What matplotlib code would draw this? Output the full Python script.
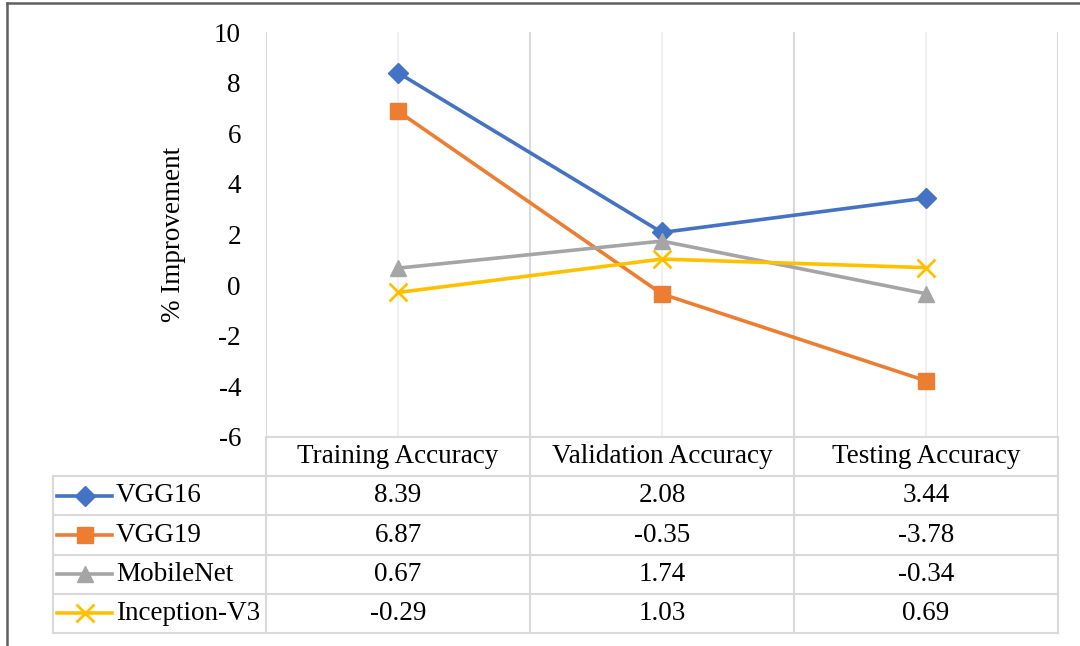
import matplotlib.pyplot as plt
from matplotlib.lines import Line2D

plt.rcParams['font.family'] = ['Liberation Serif', 'DejaVu Serif']

## data
categories = ['Training Accuracy', 'Validation Accuracy', 'Testing Accuracy']
models = ['VGG16', 'VGG19', 'MobileNet', 'Inception-V3']
vgg16 = [8.39, 2.08, 3.44]
vgg19 = [6.87, -0.35, -3.78]
mobilenet = [0.67, 1.74, -0.34]
inception = [-0.29, 1.03, 0.69]
values = [vgg16, vgg19, mobilenet, inception]
colors = ['#4472C4', '#ED7D31', '#A5A5A5', '#FFC000']
markers = ['D', 's', '^', 'x']
msizes = [10, 11, 12, 13]
yticks = [10, 8, 6, 4, 2, 0, -2, -4, -6]

W, H = 1080, 646
fig = plt.figure(figsize=(W / 100, H / 100), dpi=100)
fs = 19.5

## plot area
x0, x1 = 266, 1058
ytop, ybot = 32, 437
ax = fig.add_axes([x0 / W, 1 - ybot / H, (x1 - x0) / W, (ybot - ytop) / H])
ax.set_xlim(0, 3)
ax.set_ylim(-6, 10)
for s in ax.spines.values():
    s.set_visible(False)
for i in range(4):
    ax.axvline(i, color='#d9d9d9', lw=1.5, zorder=0)
for i in range(3):
    ax.axvline(i + 0.5, color='#f0f0f0', lw=1.5, zorder=0)
xs = [i + 0.5 for i in range(len(categories))]
for v, c, m, ms in zip(values, colors, markers, msizes):
    ax.plot(xs, v, color=c, lw=2.6, marker=m, ms=ms, mew=2 if m == 'x' else 1,
            mfc=c, mec=c, clip_on=False, zorder=3)
ax.set_xticks([])
ax.set_yticks(yticks)
ax.set_yticklabels([str(t) for t in yticks], fontsize=fs)
ax.tick_params(axis='y', length=0, pad=18)
fig.text(173 / W, 1 - 234 / H, '% Improvement', rotation=90, ha='center', va='center', fontsize=fs)

## data table
tl = 53
unit = (x1 - x0) / 3
tab = fig.add_axes([tl / W, 1 - 633 / H, (x1 - tl) / W, (633 - ybot) / H])
tab.set_xlim(-(x0 - tl) / unit, 3)
tab.set_ylim(5, 0)
tab.axis('off')
gc = '#d9d9d9'
xl = -(x0 - tl) / unit
# horizontal lines
tab.plot([0, 3], [0, 0], color=gc, lw=1.5, clip_on=False)
for r in range(1, 6):
    tab.plot([xl, 3], [r, r], color=gc, lw=1.5, clip_on=False)
# vertical lines
tab.plot([xl, xl], [1, 5], color=gc, lw=1.5, clip_on=False)
for i in range(4):
    tab.plot([i, i], [0, 5], color=gc, lw=1.5, clip_on=False)
for j, cat in enumerate(categories):
    tab.text(j + 0.5, 0.5, cat, ha='center', va='center', fontsize=fs)
lx0 = xl + 4 / unit
lx1 = xl + 59 / unit
for r, (name, v, c, m, ms) in enumerate(zip(models, values, colors, markers, msizes)):
    yy = r + 1.5
    tab.add_line(Line2D([lx0, lx1], [yy, yy], color=c, lw=2.6))
    tab.plot([(lx0 + lx1) / 2], [yy], marker=m, ms=ms, color=c, mew=2 if m == 'x' else 1)
    tab.text(xl + 63 / unit, yy, name, ha='left', va='center', fontsize=fs)
    for j, val in enumerate(v):
        tab.text(j + 0.5, yy, f'{val:.2f}', ha='center', va='center', fontsize=fs)

## outer frame (top and left)
fig.add_artist(Line2D([7 / W, 1], [1 - 3 / H, 1 - 3 / H], color='#606060', lw=1.8))
fig.add_artist(Line2D([7 / W, 7 / W], [0, 1 - 3 / H], color='#606060', lw=1.8))

fig.savefig('out.png', dpi=100)
